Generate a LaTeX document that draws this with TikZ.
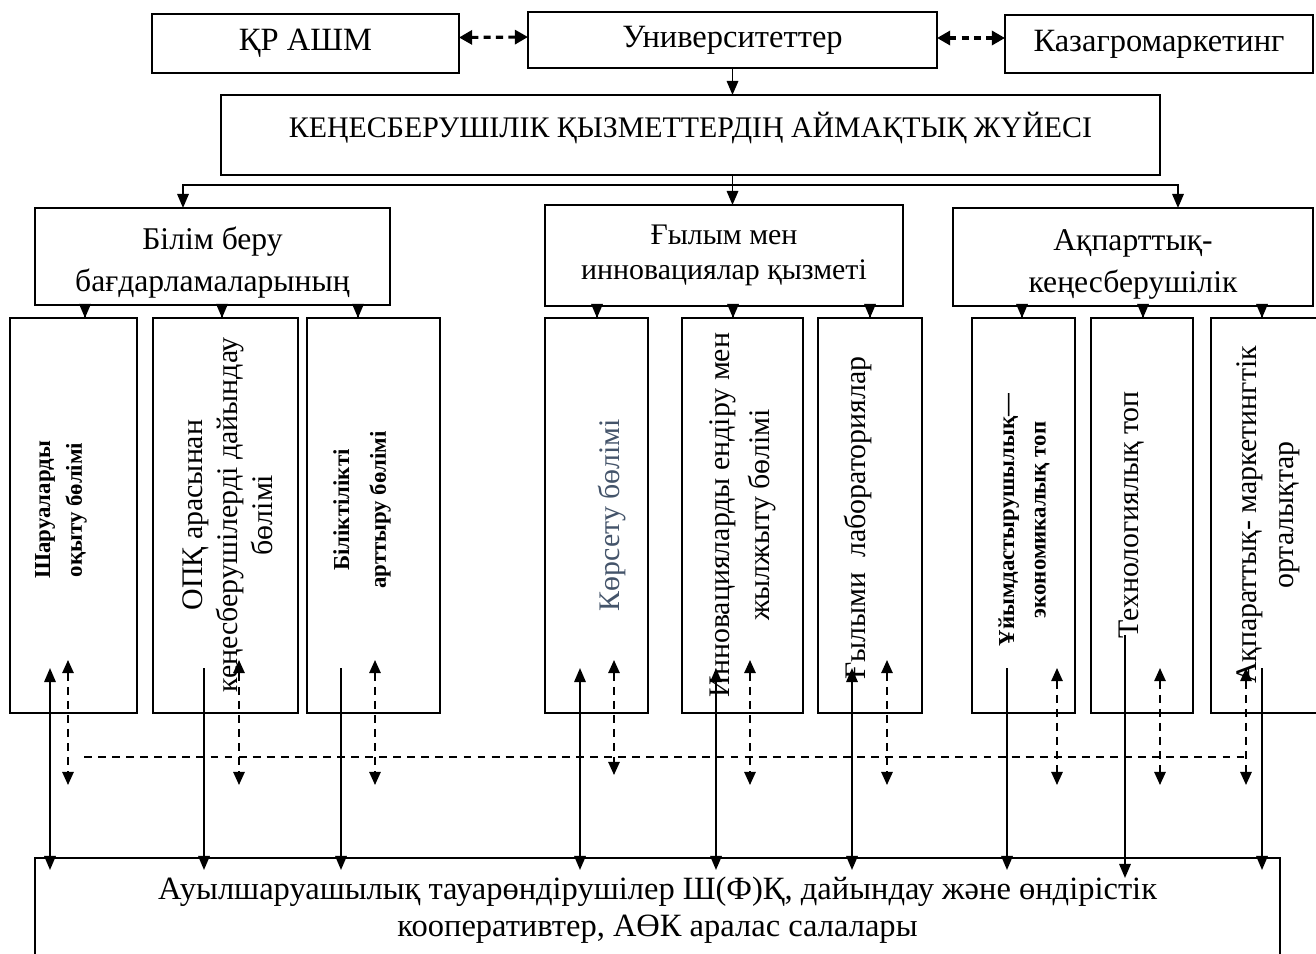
\documentclass[tikz,border=0pt]{standalone}
\usepackage{fontspec}
\setmainfont{Liberation Serif}
\usetikzlibrary{arrows.meta}
\definecolor{slate}{HTML}{44546A}

\tikzset{
  box/.style 2 args={draw, line width=0.9pt, inner sep=0pt, outer sep=0pt,
    minimum width=#1*0.02cm, minimum height=#2*0.02cm, align=center,
    font=\fontsize{18.5}{21}\selectfont},
  vtext/.style={rotate=90, align=center, inner sep=0pt},
  dx/.style={xshift=0.02cm*(#1)},
  dy/.style={yshift=-0.02cm*(#1)},
  arr/.style={line width=1.1pt, -{Triangle[length=8pt,width=6.5pt]}},
  arr2/.style={line width=1.1pt, {Triangle[length=8pt,width=6.5pt]}-{Triangle[length=8pt,width=6.5pt]}},
  darr/.style={line width=1pt, dash pattern=on 4.5pt off 3.5pt,
    {Triangle[length=7.5pt,width=6.5pt]}-{Triangle[length=7.5pt,width=6.5pt]}},
  bus/.style={line width=0.9pt, dash pattern=on 4.5pt off 3.5pt},
  tlink/.style={line width=1.8pt, dash pattern=on 4pt off 3pt,
    {Triangle[length=7.5pt,width=8pt]}-{Triangle[length=7.5pt,width=8pt]}},
}

\begin{document}
\begin{tikzpicture}[x=0.02cm, y=-0.02cm]
\useasboundingbox (0,0) rectangle (1316,954);
% top row
\node[box={307}{59}] (kr) at (305.5,43.5) {ҚР АШМ};
\node[box={409}{56}] (uni) at (732.5,40) {Университеттер};
\node[box={308}{58}] (kaz) at (1159,44) {Казагромаркетинг};
\node[box={939}{80}, text depth=0.4cm, font=\fontsize{17}{20}\selectfont] (kenes) at (690.5,135) {КЕҢЕСБЕРУШІЛІК ҚЫЗМЕТТЕРДІҢ АЙМАҚТЫҚ ЖҮЙЕСІ};

% three services
\node[box={355}{97}, font=\fontsize{18}{24}\selectfont] (h1) at (212.5,256.5) {\rule{0pt}{20pt}Білім беру\\бағдарламаларының};
\node[box={358}{101}, font=\fontsize{17}{20}\selectfont] (h2) at (724,255.5) {Ғылым мен\\инновациялар қызметі};
\node[box={360}{98}, font=\fontsize{18}{24}\selectfont] (h3) at (1133,257) {\rule{0pt}{20pt}Ақпарттық-\\кеңесберушілік};

% departments
\foreach \n/\x/\w in {c1/73.5/127, c2/225.5/145, c3/373.5/133, c4/596.5/103, c5/742.5/121,
    c6/870/104, c7/1023.5/103, c8/1142/102, c9/1266.5/111}
  \node[box={\w}{395}] (\n) at (\x,515.5) {};

\node[vtext, font=\bfseries\fontsize{13}{18}\selectfont] (t1) at (61,510) {Шаруаларды\\оқыту бөлімі};
\node[vtext, font=\fontsize{17}{20}\selectfont] (t2) at (228,515) {ОПҚ арасынан\\кеңесберушілерді дайындау\\бөлімі};
\node[vtext, font=\bfseries\fontsize{13}{21}\selectfont] (t3) at (362,510) {Біліктілікті\\арттыру бөлімі};
\node[vtext, font=\fontsize{17}{20}\selectfont, text=slate] (t4) at (612,515) {Көрсету бөлімі};
\node[vtext, font=\fontsize{17}{23}\selectfont] (t5) at (743,515) {Инновацияларды ендіру мен\\жылжыту бөлімі};
\node[vtext, font=\fontsize{17}{20}\selectfont] (t6) at (858,518) {Ғылыми\ \ лабораториялар};
\node[vtext, font=\bfseries\fontsize{13}{18}\selectfont] (t7) at (1024,520) {Ұйымдастырушылық—\\экономикалық топ};
\node[vtext, font=\fontsize{17}{20}\selectfont] (t8) at (1132,515) {Технологиялық топ};
\node[vtext, font=\fontsize{17}{21}\selectfont] (t9) at (1268,515) {Ақпараттық- маркетингтік\\орталықтар};

% producers
\node[box={1245}{104}] (farm) at (657.5,910) {Ауылшаруашылық тауарөндірушілер Ш(Ф)Қ, дайындау және өндірістік\\кооперативтер, АӨК аралас салалары};

% links at the top
\draw[tlink] ([dy=-6]kr.east) -- ([dy=-3]uni.west);
\draw[tlink] ([dy=-2]uni.east) -- ([dy=-6]kaz.west);
\draw[arr] (uni.south) -- (uni.south |- kenes.north);
\path (kenes.south -| uni.south) ++(0,10) coordinate (hub);
\draw[arr] (kenes.south -| hub) -- (hub |- h2.north);
\draw[arr] (hub) -| ([dx=-29.5]h1.north);
\draw[arr] (hub) -| ([dx=45]h3.north);

% services -> departments
\foreach \c/\h/\d in {c1/h1/11.5, c2/h1/-3.5, c3/h1/-15.5, c4/h2/0.5, c5/h2/-9.5,
    c6/h2/0, c7/h3/-1.5, c8/h3/1, c9/h3/-4.5}{
  \coordinate (q) at ([dx=\d]\c.north);
  \draw[arr, shorten <=-0.24cm] (q |- \h.south) -- (q);
}

% departments -> producers
\foreach \c/\d/\s in {c1/-23.5/arr2, c2/-21.5/arr, c3/-32.5/arr, c4/-16.5/arr2,
    c5/-26.5/arr2, c6/-18/arr2, c7/-16.5/arr, c9/-4.5/arr}{
  \coordinate (p) at ([dx=\d]\c.south);
  \draw[\s, shorten >=-0.24cm] ([dy=-45]p) -- (p |- farm.north);
}
\coordinate (p) at ([dx=-17]c8.south);
\draw[arr, shorten >=-0.4cm] ([dy=-78]p) -- (p |- farm.north);

% dashed feedback
\coordinate (bus1) at ([dx=10.5,dy=44]c1.south);
\coordinate (bus2) at ([dx=-20.5,dy=44]c9.south);
\draw[bus] (bus1) -- (bus2);
\foreach \c/\d/\t/\b in {c1/-5.5/53/72, c2/13.5/53/72, c3/1.5/53/72, c4/17.5/53/62,
    c5/7.5/53/72, c6/17/53/72, c7/33.5/45/72, c8/18/45/72, c9/-20.5/45/72}{
  \coordinate (d) at ([dx=\d]\c.south);
  \draw[darr] ([dy=-\t]d) -- ([dy=\b]d);
}
\end{tikzpicture}
\end{document}
